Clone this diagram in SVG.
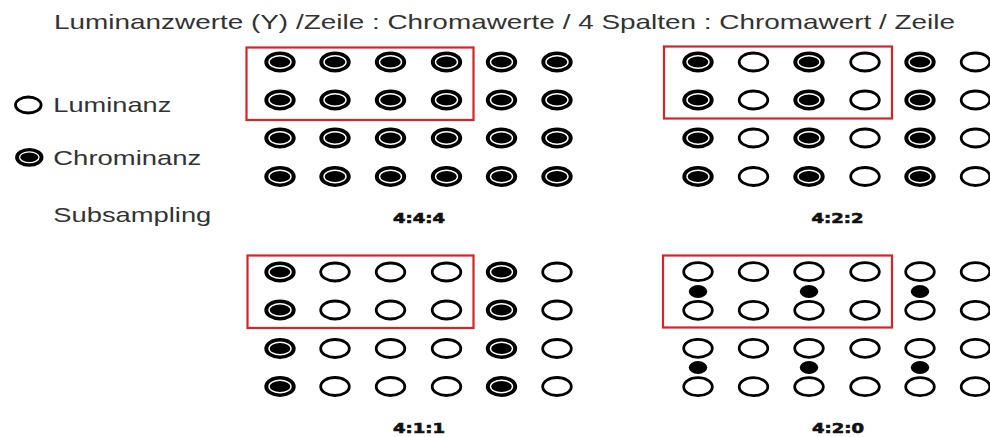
<svg xmlns="http://www.w3.org/2000/svg" xmlns:xlink="http://www.w3.org/1999/xlink" width="990" height="437" viewBox="0 0 990 437">
<style>
.t{font-family:"Liberation Sans",Arial,sans-serif;font-size:21px;fill:#333}
.lb{font-family:"DejaVu Sans","Liberation Sans",sans-serif;font-size:14px;font-weight:bold;fill:#111;text-anchor:middle;stroke:#111;stroke-width:0.6}
.box{fill:none;stroke:#d42626;stroke-width:2.2}
</style>
<defs>
<ellipse id="o" rx="14.3" ry="9" fill="#fff" stroke="#000" stroke-width="2.8"/>
<g id="f"><ellipse rx="14.3" ry="9" fill="#000" stroke="#000" stroke-width="2.8"/><ellipse rx="11" ry="6.2" fill="none" stroke="#fff" stroke-width="1.4"/></g>
<ellipse id="d" rx="9.2" ry="6.5" fill="#000"/>
</defs>
<rect width="990" height="437" fill="#fff"/>
<text class="t" x="54" y="29" textLength="901" lengthAdjust="spacingAndGlyphs">Luminanzwerte (Y) /Zeile : Chromawerte / 4 Spalten : Chromawert / Zeile</text>
<g id="legend">
<g id="leg-lum"><ellipse cx="28.3" cy="105" rx="12.8" ry="8" fill="#fff" stroke="#000" stroke-width="2.8"/><text class="t" x="53.3" y="111.7" textLength="118" lengthAdjust="spacingAndGlyphs">Luminanz</text></g>
<g id="leg-chr"><ellipse cx="29.3" cy="157.3" rx="12.8" ry="8" fill="#000" stroke="#000" stroke-width="2.8"/><ellipse cx="29.3" cy="157.3" rx="9.7" ry="5.4" fill="none" stroke="#fff" stroke-width="1.3"/><text class="t" x="53.3" y="165" textLength="148" lengthAdjust="spacingAndGlyphs">Chrominanz</text></g>
<g id="leg-sub"><text class="t" x="53.3" y="222" textLength="158" lengthAdjust="spacingAndGlyphs">Subsampling</text></g>
</g>
<g id="p444">
<rect class="box" x="246.5" y="47.5" width="227" height="72.5"/>
<g transform="translate(0,62)"><use href="#f" x="280"/><use href="#f" x="335"/><use href="#f" x="390.5"/><use href="#f" x="446.5"/><use href="#f" x="501.5"/><use href="#f" x="557"/></g>
<g transform="translate(0,100)"><use href="#f" x="280"/><use href="#f" x="335"/><use href="#f" x="390.5"/><use href="#f" x="446.5"/><use href="#f" x="501.5"/><use href="#f" x="557"/></g>
<g transform="translate(0,138)"><use href="#f" x="280"/><use href="#f" x="335"/><use href="#f" x="390.5"/><use href="#f" x="446.5"/><use href="#f" x="501.5"/><use href="#f" x="557"/></g>
<g transform="translate(0,176.5)"><use href="#f" x="280"/><use href="#f" x="335"/><use href="#f" x="390.5"/><use href="#f" x="446.5"/><use href="#f" x="501.5"/><use href="#f" x="557"/></g>
<text class="lb" x="419" y="223" textLength="52" lengthAdjust="spacingAndGlyphs">4:4:4</text>
</g>
<g id="p422">
<rect class="box" x="664" y="46.5" width="228" height="72"/>
<g transform="translate(0,62)"><use href="#f" x="698"/><use href="#o" x="753.5"/><use href="#f" x="809"/><use href="#o" x="865"/><use href="#f" x="920"/><use href="#o" x="975.5"/></g>
<g transform="translate(0,100)"><use href="#f" x="698"/><use href="#o" x="753.5"/><use href="#f" x="809"/><use href="#o" x="865"/><use href="#f" x="920"/><use href="#o" x="975.5"/></g>
<g transform="translate(0,138)"><use href="#f" x="698"/><use href="#o" x="753.5"/><use href="#f" x="809"/><use href="#o" x="865"/><use href="#f" x="920"/><use href="#o" x="975.5"/></g>
<g transform="translate(0,176.5)"><use href="#f" x="698"/><use href="#o" x="753.5"/><use href="#f" x="809"/><use href="#o" x="865"/><use href="#f" x="920"/><use href="#o" x="975.5"/></g>
<text class="lb" x="837.5" y="222.5" textLength="52" lengthAdjust="spacingAndGlyphs">4:2:2</text>
</g>
<g id="p411">
<rect class="box" x="247.5" y="255.5" width="226" height="72.5"/>
<g transform="translate(0,272)"><use href="#f" x="280"/><use href="#o" x="335"/><use href="#o" x="390.5"/><use href="#o" x="446.5"/><use href="#f" x="501.5"/><use href="#o" x="557"/></g>
<g transform="translate(0,310)"><use href="#f" x="280"/><use href="#o" x="335"/><use href="#o" x="390.5"/><use href="#o" x="446.5"/><use href="#f" x="501.5"/><use href="#o" x="557"/></g>
<g transform="translate(0,348.5)"><use href="#f" x="280"/><use href="#o" x="335"/><use href="#o" x="390.5"/><use href="#o" x="446.5"/><use href="#f" x="501.5"/><use href="#o" x="557"/></g>
<g transform="translate(0,386.5)"><use href="#f" x="280"/><use href="#o" x="335"/><use href="#o" x="390.5"/><use href="#o" x="446.5"/><use href="#f" x="501.5"/><use href="#o" x="557"/></g>
<text class="lb" x="419" y="432.5" textLength="52" lengthAdjust="spacingAndGlyphs">4:1:1</text>
</g>
<g id="p420">
<rect class="box" x="663" y="255.5" width="229" height="72"/>
<g transform="translate(0,271.7)"><use href="#o" x="698"/><use href="#o" x="753.5"/><use href="#o" x="809"/><use href="#o" x="865"/><use href="#o" x="920"/><use href="#o" x="975.5"/></g>
<g transform="translate(0,291.5)"><use href="#d" x="698"/><use href="#d" x="809"/><use href="#d" x="920"/></g>
<g transform="translate(0,310.3)"><use href="#o" x="698"/><use href="#o" x="753.5"/><use href="#o" x="809"/><use href="#o" x="865"/><use href="#o" x="920"/><use href="#o" x="975.5"/></g>
<g transform="translate(0,348.3)"><use href="#o" x="698"/><use href="#o" x="753.5"/><use href="#o" x="809"/><use href="#o" x="865"/><use href="#o" x="920"/><use href="#o" x="975.5"/></g>
<g transform="translate(0,367.5)"><use href="#d" x="698"/><use href="#d" x="809"/><use href="#d" x="920"/></g>
<g transform="translate(0,386.7)"><use href="#o" x="698"/><use href="#o" x="753.5"/><use href="#o" x="809"/><use href="#o" x="865"/><use href="#o" x="920"/><use href="#o" x="975.5"/></g>
<text class="lb" x="838" y="432.5" textLength="52" lengthAdjust="spacingAndGlyphs">4:2:0</text>
</g>
</svg>
